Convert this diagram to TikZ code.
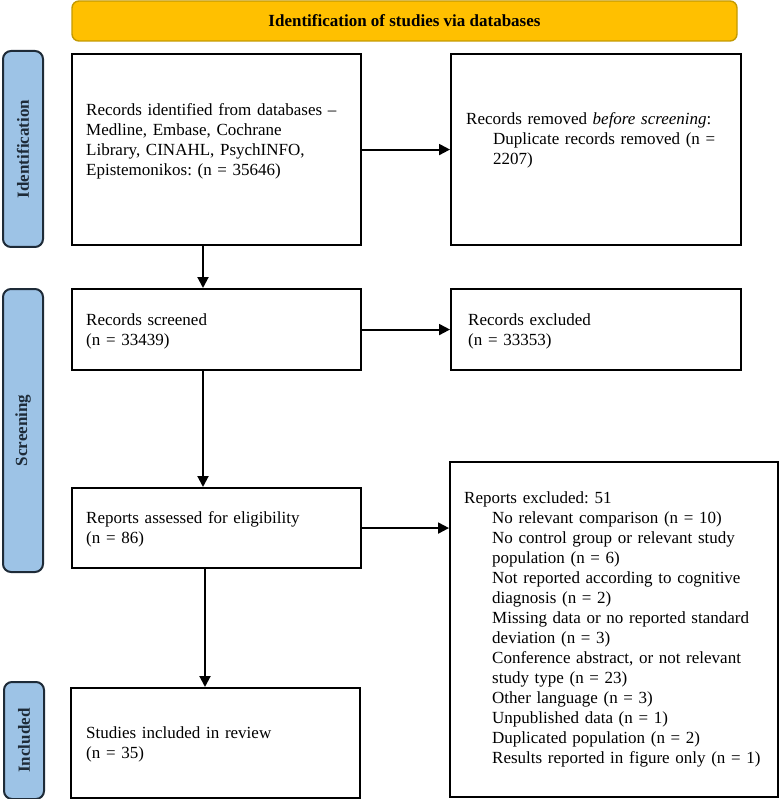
\documentclass[tikz,border=0pt]{standalone}
\usepackage{fontspec}
\setmainfont{Liberation Serif}
\usetikzlibrary{arrows.meta}
\definecolor{bannerfill}{HTML}{FFC000}
\definecolor{bannerdraw}{HTML}{C49A00}
\definecolor{sidefill}{HTML}{9DC3E6}
\definecolor{sidedraw}{HTML}{1E2B38}
\frenchspacing
\begin{document}
\begin{tikzpicture}[x=1pt,y=-1pt,
  box/.style={draw=black, line width=2.1pt, fill=white, anchor=north west, inner sep=0pt},
  banner/.style={draw=bannerdraw, fill=bannerfill, line width=1.4pt, rounded corners=7pt, inner sep=0pt,
    font=\fontsize{17}{20}\selectfont\bfseries},
  side/.style={draw=sidedraw, fill=sidefill, line width=2pt, rounded corners=8pt, anchor=north west, inner sep=0pt},
  sidelabel/.style={rotate=90, font=\fontsize{17}{20}\selectfont\bfseries, inner sep=0pt, text=sidedraw},
  txt/.style={anchor=base west, inner sep=0pt, text width=310pt, align=left, font=\fontsize{17}{20}\selectfont},
  arr/.style={line width=2pt, -{Triangle[length=11pt,width=11pt]}}
]
\useasboundingbox (0,0) rectangle (778,799);

% banner
\node[banner, minimum width=665pt, minimum height=40pt] (ban) at (404.5,21) {Identification of studies via databases};

% side bars
\node[side, minimum width=40pt, minimum height=196pt] (s1) at (2,50) {};
\node[sidelabel] (l1) at (s1.center) {Identification};
\node[side, minimum width=40pt, minimum height=283pt] (s2) at (2,288) {};
\node[sidelabel] (l2) at (s2.center) {Screening};
\node[side, minimum width=40pt, minimum height=117pt] (s3) at (3,681) {};
\node[sidelabel] (l3) at (s3.center) {Included};

% boxes
\node[box, minimum width=289pt, minimum height=191pt] (b1) at (71,53) {};
\node[box, minimum width=290pt, minimum height=191pt] (b2) at (450,53) {};
\node[box, minimum width=289pt, minimum height=81pt] (b3) at (71,288) {};
\node[box, minimum width=290pt, minimum height=81pt] (b4) at (450,288) {};
\node[box, minimum width=289pt, minimum height=80pt] (b5) at (71,487) {};
\node[box, minimum width=328pt, minimum height=335pt] (b6) at (449,461) {};
\node[box, minimum width=289pt, minimum height=110pt] (b7) at (70,687) {};

% texts
\node[txt] (t1) at (86,116) {Records identified from databases –\\Medline, Embase, Cochrane\\Library, CINAHL, PsychINFO,\\Epistemonikos: (n = 35646)};
\node[txt] (t2) at (466,125) {Records removed \textit{before screening}:\\\hspace*{27pt}Duplicate records removed (n =\\\hspace*{27pt}2207)};
\node[txt] (t3) at (86,325) {Records screened\\(n = 33439)};
\node[txt] (t4) at (468,325) {Records excluded\\(n = 33353)};
\node[txt] (t5) at (86,523) {Reports assessed for eligibility\\(n = 86)};
\node[txt] (t6) at (464,503) {Reports excluded: 51\\
\hspace*{28pt}No relevant comparison (n = 10)\\
\hspace*{28pt}No control group or relevant study\\
\hspace*{28pt}population (n = 6)\\
\hspace*{28pt}Not reported according to cognitive\\
\hspace*{28pt}diagnosis (n = 2)\\
\hspace*{28pt}Missing data or no reported standard\\
\hspace*{28pt}deviation (n = 3)\\
\hspace*{28pt}Conference abstract, or not relevant\\
\hspace*{28pt}study type (n = 23)\\
\hspace*{28pt}Other language (n = 3)\\
\hspace*{28pt}Unpublished data (n = 1)\\
\hspace*{28pt}Duplicated population (n = 2)\\
\hspace*{28pt}Results reported in figure only (n = 1)};
\node[txt] (t7) at (86,738) {Studies included in review\\(n = 35)};

% connectors
\coordinate (x1) at (203,0);
\coordinate (x2) at (205,0);
\draw[arr] (b1.east) -- (b2.west);
\draw[arr] (b1.south -| x1) -- (b3.north -| x1);
\draw[arr] (b3.east) -- (b4.west);
\draw[arr] (b3.south -| x1) -- (b5.north -| x1);
\draw[arr] (b5.east) -- (b5.east -| b6.west);
\draw[arr] (b5.south -| x2) -- (b7.north -| x2);
\end{tikzpicture}
\end{document}
